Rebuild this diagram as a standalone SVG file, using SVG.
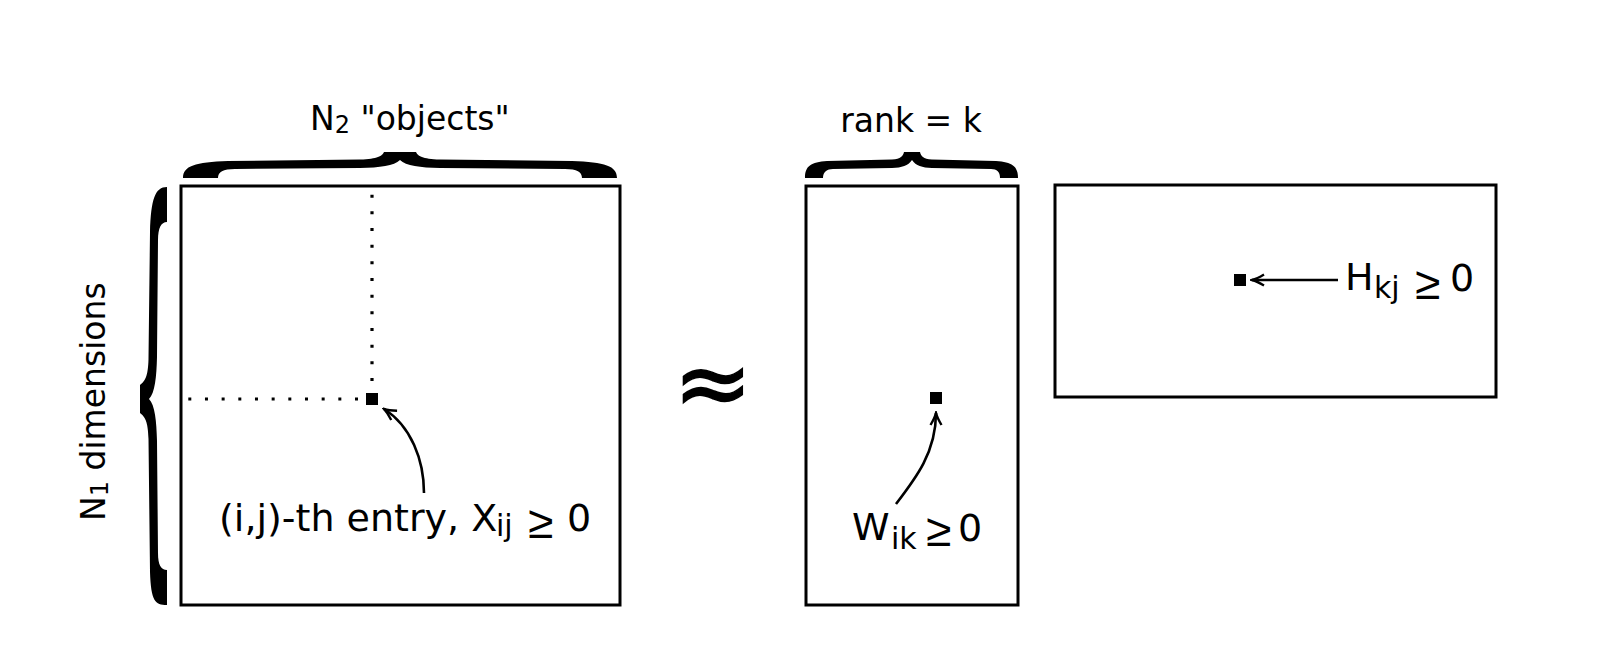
<svg xmlns="http://www.w3.org/2000/svg" width="1600" height="657" viewBox="0 0 1600 657">
<style>
  .box{fill:none;stroke:#000;stroke-width:3}
  .cell{fill:#000}
  .brace{fill:#000}
  .dots{fill:none;stroke:#000;stroke-width:3.2;stroke-dasharray:3 13.67}
  .lbl{font-family:"DejaVu Sans",Verdana,sans-serif;fill:#000}
  .ge{font-family:"Liberation Sans",Arial,sans-serif;fill:#000;font-size:46px}
  .conn{fill:none;stroke:#000;stroke-width:2.6}
</style>
<defs>
  <marker id="arr" viewBox="-14 -8 16 16" refX="0" refY="0" markerWidth="16" markerHeight="16" markerUnits="userSpaceOnUse" orient="auto">
    <path d="M-12,-5.5 Q-5,-1.3 0,0 Q-5,1.3 -12,5.5" fill="none" stroke="#000" stroke-width="2.4"/>
  </marker>
</defs>
<rect width="1600" height="657" fill="#fff"/>

<g id="matrix-X">
  <rect class="box" x="181" y="186" width="439" height="419"/>
  <path class="dots" d="M372,381 V192"/>
  <path class="dots" d="M358,399 H186"/>
  <rect class="cell" x="366" y="393" width="12" height="12"/>
  <text class="lbl" font-size="38" x="219" y="531">(i,j)-th entry, X</text>
  <text class="lbl" font-size="30" x="496" y="536">ij</text>
  <text class="ge" x="528" y="538">≥</text>
  <text class="lbl" font-size="38" x="567" y="531">0</text>
</g>

<g id="brace-N2">
  <path class="brace" d="M183,178 C183,166 195,162 228,161 L360,159.5 C378,159 382,156 384,152 L416,152 C418,156 422,159 440,159.5 L572,161 C605,162 617,166 617,178 L582,178 C582,172 577,169 565,169 L440,168 C420,167.5 406,166 400,160 C394,166 380,167.5 360,168 L235,169 C223,169 218,172 218,178 Z"/>
  <text class="lbl" font-size="33" x="310" y="130">N<tspan font-size="24" dy="3">2</tspan><tspan dy="-3"> "objects"</tspan></text>
</g>

<g id="brace-N1">
  <path class="brace" d="M167,187 C155,187 151,199 150,232 L148.5,359 C148,377 145,381 140,385 L140,413 C145,417 148,421 148.5,439 L150,572 C151,601 155,605 167,605 L167,570 C161,570 158,565 158,553 L157,441 C156.5,421 155,405 149,399 C155,393 156.5,377 157,357 L158,240 C158,228 161,222 167,222 Z"/>
  <text class="lbl" font-size="33" transform="translate(105,521) rotate(-90)">N<tspan font-size="24" dy="3">1</tspan><tspan dy="-3"> dimensions</tspan></text>
</g>

<g id="approx">
  <text class="lbl" font-size="94" x="713" y="415" text-anchor="middle" stroke="#000" stroke-width="1.5">≈</text>
</g>

<g id="matrix-W">
  <rect class="box" x="806" y="186" width="212" height="419"/>
  <rect class="cell" x="930" y="392" width="12" height="12"/>
  <text class="lbl" font-size="38" x="852" y="540">W</text>
  <text class="lbl" font-size="30" x="891" y="549">ik</text>
  <text class="ge" x="926" y="546">≥</text>
  <text class="lbl" font-size="38" x="958" y="541">0</text>
</g>

<g id="brace-rank">
  <path class="brace" d="M805,178 C805,166 811,162 827,161 L892,159.5 C901,159 903,156 904,152 L920,152 C921,156 923,159 932,159.5 L996,161 C1012,162 1018,166 1018,178 L1000,178 C1000,172 997,169 991,169 L932,168 C922,167.5 916,166 912,160 C908,166 902,167.5 892,168 L833,169 C827,169 823,172 823,178 Z"/>
  <text class="lbl" font-size="33" x="911" y="132" text-anchor="middle">rank = k</text>
</g>

<g id="matrix-H">
  <rect class="box" x="1055" y="185" width="441" height="212"/>
  <rect class="cell" x="1234" y="274" width="12" height="12"/>
  <text class="lbl" font-size="38" x="1345" y="290">H</text>
  <text class="lbl" font-size="30" x="1374" y="298">kj</text>
  <text class="ge" x="1415" y="299">≥</text>
  <text class="lbl" font-size="38" x="1450" y="291">0</text>
</g>

<g id="connectors">
  <path class="conn" d="M424,493 C424,460 411,426 384,409" marker-end="url(#arr)"/>
  <path class="conn" d="M896,504 C916,478 936,452 936,413" marker-end="url(#arr)"/>
  <path class="conn" d="M1338,280 H1252" marker-end="url(#arr)"/>
</g>
</svg>
